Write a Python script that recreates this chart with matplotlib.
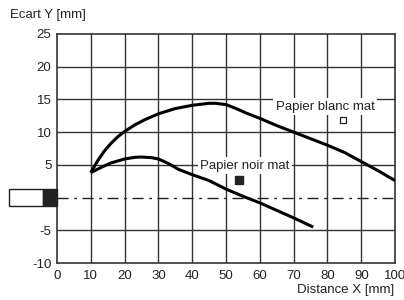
import matplotlib.pyplot as plt
from matplotlib.patches import Rectangle

plt.rcParams['font.family'] = ['Liberation Sans', 'DejaVu Sans']

# ----------------------- Data --------------------------
# Papier blanc mat (white matte paper)
blanc_x = [10, 12, 14, 16, 18, 20, 23, 26, 30, 35, 40, 45, 47, 50, 53, 56,
           60, 65, 70, 75, 80, 85, 90, 95, 100]
blanc_y = [3.8, 5.6, 7.1, 8.3, 9.3, 10.1, 11.1, 11.9, 12.8, 13.6, 14.1, 14.4,
           14.4, 14.2, 13.6, 12.9, 12.1, 11.0, 10.0, 9.0, 8.0, 6.9, 5.5, 4.1, 2.6]

# Papier noir mat (black matte paper)
noir_x = [10, 13, 16, 20, 23, 25, 28, 30, 33, 36, 40, 45, 50, 55, 60, 65, 70, 75.8]
noir_y = [3.8, 4.6, 5.3, 5.9, 6.15, 6.2, 6.1, 5.9, 5.2, 4.3, 3.5, 2.6, 1.3,
          0.2, -0.8, -1.95, -3.1, -4.5]

x_ticks = [0, 10, 20, 30, 40, 50, 60, 70, 80, 90, 100]
y_ticks = [-10, -5, 0, 5, 10, 15, 20, 25]
y_ticklabels = ['-10', '-5', '', '5', '10', '15', '20', '25']

# ----------------------- Plot --------------------------
fig = plt.figure(figsize=(4.04, 3.0), dpi=100)
ax = fig.add_axes([0.141, 0.123, 0.837, 0.764])

grid_col = '#333333'
ax.set_xlim(0, 100)
ax.set_ylim(-10, 25)
ax.set_xticks(x_ticks)
ax.set_yticks(y_ticks)
ax.set_yticklabels(y_ticklabels)
ax.tick_params(length=0, labelsize=9.5, pad=4, colors='#222222')
ax.tick_params(axis='x', pad=5)

# grid (skip y=0, which is the dash-dot axis line)
for x in x_ticks[1:-1]:
    ax.axvline(x, color=grid_col, lw=1.0, zorder=1)
for y in y_ticks:
    if y not in (0, -10, 25):
        ax.axhline(y, color=grid_col, lw=1.0, zorder=1)
ax.axhline(0, color='#222222', lw=1.0, ls=(0, (8, 4, 2, 4)), zorder=1)
for s in ax.spines.values():
    s.set_color(grid_col)
    s.set_linewidth(1.2)

# curves
ax.plot(blanc_x, blanc_y, color='black', lw=2.2, solid_capstyle='butt', zorder=3)
ax.plot(noir_x, noir_y, color='black', lw=2.2, solid_capstyle='butt', zorder=3)

# labels with markers
box = dict(facecolor='white', edgecolor='none', pad=2)
ax.text(79.3, 13.9, 'Papier blanc mat', ha='center', va='center', fontsize=9.5,
        bbox=box, zorder=4, color='#222222')
ax.plot([84.7], [11.8], marker='s', ms=5, mfc='white', mec='#222222', mew=0.9, zorder=5)
ax.text(55.6, 4.9, 'Papier noir mat', ha='center', va='center', fontsize=9.5,
        bbox=box, zorder=4, color='#222222')
ax.plot([53.9], [2.75], marker='s', ms=6, color='#222222', zorder=5)

# sensor symbol left of the axis
ax.add_patch(Rectangle((-14.1, -1.3), 10.05, 2.6, facecolor='white',
                       edgecolor='#222222', lw=1.0, clip_on=False, zorder=5))
ax.add_patch(Rectangle((-4.05, -1.3), 4.05, 2.6, facecolor='#222222',
                       edgecolor='#222222', lw=1.0, clip_on=False, zorder=5))

# axis titles
fig.text(10 / 404, 1 - 15 / 300, 'Ecart Y [mm]', fontsize=9.5, va='center',
         ha='left', color='#222222')
fig.text(394 / 404, 1 - 290 / 300, 'Distance X [mm]', fontsize=9.5, va='center',
         ha='right', color='#222222')

fig.savefig('out.png', dpi=100)
